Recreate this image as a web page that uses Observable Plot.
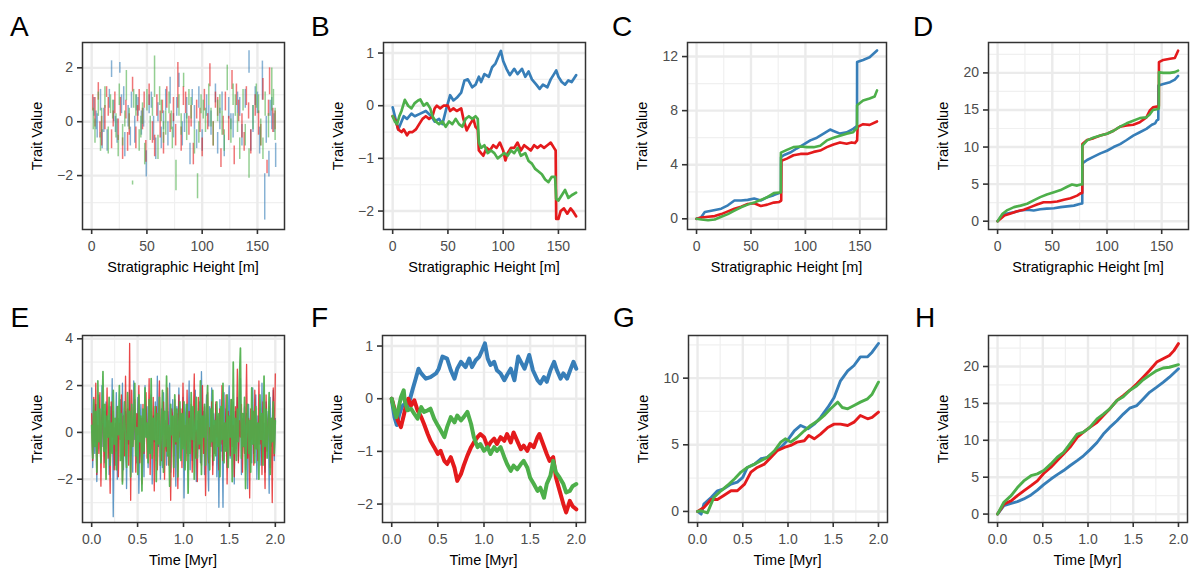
<!DOCTYPE html>
<html><head><meta charset="utf-8">
<script src="https://cdn.jsdelivr.net/npm/d3@7"></script>
<script src="https://cdn.jsdelivr.net/npm/@observablehq/plot@0.6"></script>
<style>
body{margin:0;background:#fff;}
#root{position:relative;width:1195px;height:572px;overflow:hidden;font-family:"Liberation Sans",Arial,sans-serif;background:#fff;}
.panel{position:absolute;}
.panel svg text{fill:#4d4d4d;}
.panel svg g[aria-label="x-axis"] line,.panel svg g[aria-label="y-axis"] line,
.panel svg g[aria-label="x-axis tick"] path,.panel svg g[aria-label="y-axis tick"] path{stroke-width:1.6px;stroke:#333;}
.lab{position:absolute;font-size:28px;line-height:28px;color:#000;}
.xt{position:absolute;font-size:14.5px;line-height:14.5px;white-space:nowrap;transform:translate(-50%,-50%);color:#000;}
.yt{position:absolute;font-size:14.5px;line-height:14.5px;white-space:nowrap;transform:translate(-50%,-50%) rotate(-90deg);color:#000;}
</style></head>
<body><div id="root"></div>
<script>
const RED="#E41A1C", BLUE="#377EB8", GREEN="#4DAF4A";

// ---- tick labels / gridlines ----
const stratTicks=[0,50,100,150], stratMinor=[25,75,125];
const timeTicks=[0,0.5,1,1.5,2], timeMinor=[0.25,0.75,1.25,1.75];
const A_yTicks=[-2,0,2], A_yMinor=[-3,-1,1];
const B_yTicks=[-2,-1,0,1], B_yMinor=[-1.5,-0.5,0.5];
const C_yTicks=[0,4,8,12], C_yMinor=[2,6,10];
const D_yTicks=[0,5,10,15,20], D_yMinor=[2.5,7.5,12.5,17.5,22.5];
const E_yTicks=[-2,0,2,4], E_yMinor=[-3,-1,1,3];
const G_yTicks=[0,5,10], G_yMinor=[2.5,7.5,12.5];

// ---- Panel A: segments [height, low, high] ----
const A_blue=[[2,0.2,0.9],[5,-0.6,0.3],[8,0.4,1.2],[11,-0.4,0.5],[14,-1.1,-0.3],[18,1.64,2.26],[20,0.0,0.8],[23,-0.8,0.1],[25.5,1.8,2.2],[27,0.3,1.0],[30,-1.3,-0.4],[33,-0.2,0.6],[36,0.5,1.1],[39,-0.8,0.2],[42,0.2,0.9],[45,-0.5,0.4],[49.4,-2.05,-1.08],[52,0.3,1.0],[56,-0.7,0.2],[60,0.0,0.7],[63,-1.0,-0.2],[67,0.4,1.2],[71,0.66,1.65],[74,-0.6,0.3],[79,1.27,1.8],[82,-0.9,0.0],[86,0.1,0.9],[89,-1.6,-0.8],[93,-0.3,0.6],[97,0.5,1.3],[100,-1.1,-0.3],[104,0.2,1.0],[108,-0.5,0.4],[112,0.7,1.4],[116,-0.3,0.5],[120,-1.3,-0.5],[124,0.1,0.9],[128,-0.6,0.3],[132,0.3,1.1],[136,-0.9,-0.1],[139,0.5,1.2],[142.4,1.8,2.63],[146,-0.4,0.6],[150,0.3,1.1],[152,-1.2,-0.2],[154.5,0.8,2.25],[156.6,-3.65,-1.93],[158,-0.8,0.2],[160.4,-2.05,-1.1],[163,-0.3,0.9],[166.5,-1.7,-0.8],
 [4,-0.3,0.4],[9.5,-1.0,-0.3],[16,0.5,1.2],[21.5,-0.4,0.2],[29,0.6,1.3],[35,-0.9,-0.2],[40.5,0.4,1.0],[47,-0.2,0.5],[54,0.5,1.1],[58,-1.4,-0.6],[65,-0.3,0.4],[69,-0.9,0.0],[77,0.2,0.9],[84,-0.4,0.3],[91,0.6,1.2],[95,-1.0,-0.3],[106,-0.2,0.6],[114,-1.2,-0.4],[118,0.4,1.1],[126,-0.3,0.3],[134,0.2,0.9],[144,-1.1,-0.3],[148,0.6,1.3],[161.5,0.2,0.8],[165,-0.4,0.3]];
const A_red=[[3,-0.2,0.9],[6,0.8,1.45],[9,-0.9,0.2],[12,-0.3,0.6],[15,0.2,0.9],[18,-1.0,-0.3],[21,0.3,1.1],[24,-0.7,0.1],[28,-1.4,-0.6],[31,0.1,0.8],[34,-0.5,0.3],[37,1.1,1.65],[40,-1.0,-0.2],[43,0.4,1.2],[46,-0.3,0.5],[49,-1.5,-0.7],[52,0.6,1.4],[55,-0.8,0.0],[59,0.2,1.0],[62,-0.6,0.4],[65,-1.2,-0.4],[68,0.5,1.3],[71,-0.4,0.3],[74,0.0,0.9],[78,0.5,2.2],[81,-1.1,-0.2],[85,0.3,1.1],[88,-0.5,0.2],[92,-1.6,-0.8],[95,0.1,0.8],[98,-0.4,0.5],[102,0.4,1.2],[107,1.3,2.15],[110,-0.9,0.0],[114,0.2,0.9],[117,-1.7,-1.0],[121,0.4,1.1],[124,-0.7,0.2],[127,1.2,1.9],[129,-1.6,-0.9],[133,0.0,0.8],[136,-0.6,0.3],[140,0.6,1.3],[144,-1.2,-0.3],[148,0.2,1.0],[151,-0.5,0.4],[155,0.8,1.6],[158.7,-1.93,-1.43],[161,1.0,2.0],[164,-0.4,0.5],[166,-0.3,0.4],
 [1,0.4,1.0],[7.5,-0.6,0.0],[13.5,0.9,1.3],[19.5,-0.2,0.4],[26,0.2,0.9],[32.5,-1.1,-0.4],[41.5,0.0,0.6],[47.5,0.5,1.1],[57,-1.3,-0.5],[64,0.3,0.8],[76,-0.9,-0.1],[83,0.6,1.3],[90,-0.2,0.6],[100,-1.3,-0.6],[105,-0.3,0.3],[112,0.5,1.1],[119,-0.5,0.2],[131,0.6,1.4],[138,-1.1,-0.4],[142,0.1,0.7],[153,-0.9,-0.1],[160,0.2,0.8]];
const A_green=[[3,-0.8,0.1],[6,0.2,1.1],[9,-0.4,0.5],[12,0.5,1.3],[15,-1.2,-0.2],[19,0.1,0.8],[22,-0.6,0.3],[25,0.6,1.4],[28,-0.9,-0.1],[31.4,0.78,1.9],[34,-0.3,0.5],[37,-2.35,-2.2],[40,0.2,1.0],[43,-1.1,-0.3],[46,-0.1,0.7],[50,0.4,1.2],[53,-0.7,0.2],[56.9,0.9,2.44],[60,-1.4,-0.5],[63,0.0,0.8],[67,-0.5,0.4],[70,0.3,1.1],[73,-1.0,-0.2],[76.3,-2.56,-1.43],[79,0.2,1.0],[83.2,1.27,1.8],[86,-0.7,0.3],[90,0.1,0.9],[93,-1.2,-0.3],[95.8,-2.86,-1.93],[99,0.3,1.0],[103,-0.4,0.5],[106,0.6,1.4],[110,-0.9,0.0],[114,0.0,0.8],[118,-0.5,0.4],[122.7,1.15,2.1],[126,-0.8,0.1],[130,0.2,1.0],[134,-1.4,-0.6],[137,0.4,1.2],[142.4,-2.1,-1.0],[146,-0.3,0.6],[149,0.5,1.4],[153,-0.9,0.1],[157,0.2,1.1],[160,-0.6,0.3],[163,0.4,1.99],[166,-0.7,0.5],
 [1.5,-0.3,0.5],[8,-1.1,-0.4],[17,0.3,1.0],[24,-1.3,-0.5],[30,-0.2,0.4],[38,0.5,1.2],[44.5,-0.6,0.2],[48,-1.6,-0.8],[55,0.2,0.9],[61.5,0.6,1.3],[65,-0.8,0.0],[72,-0.3,0.4],[81,-0.5,0.3],[88,0.6,1.2],[97,-0.8,0.0],[101,0.1,0.8],[108,-0.2,0.5],[116,0.3,1.0],[120,-1.1,-0.3],[128,0.6,1.4],[132,-0.4,0.3],[139,-0.9,-0.1],[151,0.3,1.0],[155,-1.4,-0.6],[164.5,0.6,1.2]];

// ---- Panel B: [height, value] ----
const B_blue=[[0,-0.03],[2,-0.2],[5,-0.45],[7,-0.35],[10,-0.2],[13,-0.25],[17,-0.15],[20,-0.2],[25,-0.15],[30,-0.1],[35,-0.2],[38,-0.3],[42,-0.25],[45,-0.35],[48,-0.1],[52,0.2],[55,0.1],[58,0.15],[62,0.25],[65,0.48],[68,0.5],[72,0.35],[75,0.4],[78,0.55],[80,0.45],[83,0.6],[87,0.55],[90,0.73],[93,0.8],[96,0.95],[98,1.04],[100,0.85],[103,0.7],[106,0.58],[110,0.7],[113,0.6],[117,0.7],[120,0.55],[123,0.65],[126,0.5],[130,0.4],[133,0.32],[136,0.4],[140,0.35],[143,0.5],[146,0.6],[148,0.67],[150,0.55],[153,0.45],[156,0.4],[159,0.48],[162,0.45],[166,0.58]];
const B_red=[[0,-0.2],[3,-0.3],[5,-0.45],[8,-0.5],[10,-0.45],[13,-0.56],[15,-0.5],[18,-0.5],[21,-0.45],[24,-0.35],[27,-0.25],[30,-0.2],[33,-0.25],[36,-0.2],[38,-0.05],[40,0],[43,-0.05],[46,0],[50,0],[52,-0.1],[55,-0.05],[58,-0.1],[62,-0.05],[64,-0.25],[67,-0.47],[70,-0.35],[73,-0.25],[75,-0.4],[77,-0.45],[78,-0.85],[80,-0.9],[82,-0.95],[85,-0.8],[88,-0.85],[91,-0.75],[94,-0.8],[97,-0.7],[100,-0.85],[102,-1.04],[104,-0.9],[107,-0.8],[110,-0.8],[113,-0.7],[116,-0.85],[119,-0.75],[122,-0.8],[125,-0.85],[128,-0.75],[131,-0.8],[134,-0.75],[137,-0.8],[140,-0.75],[143,-0.7],[146,-0.8],[147.5,-0.85],[148,-2.15],[150,-2.15],[152,-2.0],[155,-1.95],[158,-2.05],[161,-1.95],[163,-2.0],[166,-2.1]];
const B_green=[[0,-0.2],[2,-0.3],[4,-0.35],[6,-0.2],[8,-0.1],[11,0.11],[14,0],[17,-0.05],[20,0.05],[23,0.1],[25,0.12],[28,0],[31,0.05],[34,-0.05],[36,-0.2],[39,-0.3],[42,-0.35],[45,-0.3],[48,-0.4],[51,-0.3],[54,-0.35],[57,-0.25],[60,-0.35],[63,-0.4],[66,-0.25],[69,-0.2],[72,-0.25],[75,-0.2],[77,-0.25],[78,-0.7],[80,-0.8],[83,-0.75],[86,-0.9],[89,-0.85],[92,-0.9],[95,-1.0],[98,-0.95],[101,-0.9],[104,-0.95],[107,-0.85],[110,-0.9],[113,-0.8],[116,-0.95],[120,-0.9],[123,-1.05],[126,-1.1],[129,-1.2],[132,-1.25],[135,-1.3],[138,-1.4],[141,-1.45],[144,-1.35],[147,-1.35],[148,-1.77],[150,-1.8],[153,-1.7],[156,-1.6],[159,-1.75],[162,-1.7],[166,-1.65]];

// ---- Panel C ----
const C_blue=[[0,0],[4,0.1],[7.6,0.5],[13.6,0.6],[22.7,0.75],[28.8,1.0],[34.8,1.35],[40.9,1.35],[47,1.4],[53,1.5],[59,1.35],[65,1.6],[71,1.75],[76,1.9],[77.5,1.95],[77.6,4.55],[80,4.7],[86,4.9],[92,5.2],[98.5,5.5],[104.5,5.8],[110.6,6.0],[116.7,6.3],[122.7,6.6],[125.8,6.5],[131.8,6.3],[137.9,6.4],[143.9,6.65],[146.4,6.8],[147.4,6.9],[147.5,11.6],[153,11.75],[159,11.95],[165.8,12.45]];
const C_red=[[0,0],[4.5,0.1],[10.6,0.15],[16.7,0.2],[22.7,0.35],[28.8,0.55],[34.8,0.75],[40.9,0.9],[47,1.1],[53,1.15],[59,0.95],[65,1.05],[71,1.2],[76,1.25],[77.8,1.35],[78,4.3],[83,4.45],[89,4.7],[95.5,4.8],[101.5,4.8],[107.6,4.95],[113.6,5.05],[119.7,5.3],[125.8,5.5],[131.8,5.65],[137.9,5.55],[142.4,5.65],[145.5,5.6],[147.5,5.8],[148,6.8],[153,7.0],[159,6.95],[165.8,7.2]];
const C_green=[[0,0],[4.5,-0.05],[10.6,-0.1],[16.7,-0.05],[22.7,0.15],[28.8,0.35],[34.8,0.6],[40.9,0.85],[47,1.05],[53,1.2],[59,1.4],[65,1.6],[71,1.9],[76,1.95],[77.4,1.95],[77.5,4.9],[83,5.1],[89,5.3],[95.5,5.35],[101.5,5.3],[107.6,5.3],[113.6,5.4],[119.7,5.8],[125.8,6.0],[131.8,6.15],[137.9,6.3],[143.9,6.4],[146.4,6.65],[147.4,6.7],[147.5,8.4],[153,8.75],[159,8.9],[163.6,9.05],[165.8,9.5]];

// ---- Panel D ----
const D_blue=[[0,0],[3,0.55],[7.6,1.0],[15,1.2],[21,1.45],[27,1.55],[33,1.45],[39,1.6],[45,1.7],[51.5,1.75],[57.6,1.9],[63.6,2.0],[69.7,2.1],[75.8,2.35],[77.4,2.4],[77.5,7.8],[81.8,8.25],[87.9,8.7],[94,9.15],[100,9.5],[106,10.0],[112,10.4],[118,10.95],[124,11.55],[130,12.0],[136,12.45],[141,13.0],[144,13.2],[145.5,13.6],[146.9,13.7],[147,18.3],[151.5,18.5],[157.6,18.75],[162,19.1],[165,19.6]];
const D_red=[[0,0],[6,0.75],[12,1.05],[18,1.35],[24,1.55],[30,1.9],[36,2.25],[42,2.55],[48.5,2.55],[54.5,2.65],[60.6,2.9],[66.7,3.1],[72.7,3.45],[75.8,3.75],[77.4,3.8],[77.5,10.4],[81.8,10.95],[87.9,11.2],[94,11.55],[100,11.8],[106,12.2],[112,12.75],[118,12.9],[124,13.0],[130,13.35],[136,14.0],[139,14.9],[142,15.35],[145.5,15.45],[147.4,15.5],[147.5,21.45],[151.5,21.75],[157.6,21.9],[162,22.0],[165,23.0]];
const D_green=[[0,0],[4.5,1.0],[9,1.5],[15,1.9],[21,2.1],[27,2.35],[33,2.8],[39,3.25],[45,3.6],[51.5,3.9],[57.6,4.2],[63.6,4.65],[68,4.95],[72.7,4.8],[75.8,4.95],[77.4,4.95],[77.5,10.2],[81.8,10.9],[87.9,11.3],[94,11.55],[100,11.8],[106,12.2],[112,12.75],[118,13.2],[124,13.55],[130,13.9],[136,14.0],[139,14.4],[142,15.0],[145.5,15.1],[147.4,15.2],[147.5,20.1],[151.5,20.0],[157.6,20.0],[162,20.1],[165,20.3]];

// ---- Panel E: values on an even time grid from 0 to 2 Myr ----
const E_red=[0.8,-1.2,1.5,-0.4,2.1,-1.8,0.3,-0.9,1.7,-2.3,0.6,1.2,-1.5,0.2,-0.7,1.9,-1.1,0.5,-2.6,1.3,
-0.2,0.9,-1.6,0.4,-0.8,1.1,-1.9,0.4,-0.3,1.6,-2.1,0.7,-1.0,2.4,-0.5,1.0,-1.4,3.8,-2.9,1.8,
-0.6,0.3,1.4,-1.7,0.8,-0.1,2.0,-1.3,0.6,-2.2,1.2,-0.9,0.2,1.7,-1.1,-0.4,2.3,-1.8,0.9,-0.7,
1.5,-2.5,0.4,1.1,-1.6,0.0,2.2,-0.3,-1.2,0.7,1.3,-2.0,0.5,-0.8,1.9,-1.4,0.2,-2.9,1.0,0.6,
-1.9,1.4,-0.5,0.8,-2.4,1.6,-0.2,1.0,-1.5,2.1,-0.6,0.3,-1.2,1.8,-1.0,0.9,-0.4,1.2,-1.7,0.5,
2.5,-1.1,0.1,-2.1,1.5,-0.7,0.6,-1.4,2.0,-0.9,1.1,-2.7,0.4,1.7,-1.3,0.2,-0.6,1.3,-1.8,0.3,
-0.9,1.3,-0.2,0.7,-1.6,1.0,-0.5,2.0,-1.2,0.4,-0.8,1.6,-2.2,0.9,0.1,-1.0,1.4,-0.6,0.3,-1.9,
1.1,-0.4,2.7,-1.3,0.5,-0.2,1.2,-1.7,0.8,-0.9,0.2,2.9,-1.1,0.6,-2.8,1.0,-0.3,0.9,-1.4,1.8,
-0.7,0.4,-1.2,2.2,-0.5,0.7,-1.8,1.3,-0.1,-2.4,1.6,-0.8,0.3,1.1,-1.5,0.6,-3.0,1.9,-1.0,2.5];
const E_blue=[1.9,-1.5,0.4,-0.9,1.2,-2.1,0.7,1.6,-0.3,-1.2,2.0,-0.6,0.9,-1.3,1.3,-0.2,0.5,-1.8,1.1,-0.8,
2.3,-3.6,0.2,-1.4,1.7,-2.0,0.6,-0.1,1.4,-1.1,2.1,-1.6,0.3,0.9,-2.4,1.0,-0.5,1.8,-1.0,0.4,
-1.7,2.2,-0.3,0.8,-1.3,1.5,-2.6,0.1,1.2,-0.7,0.6,-1.9,2.0,-0.2,1.1,-1.5,0.3,-0.9,1.6,-2.2,
0.7,-0.4,1.3,-1.2,2.4,-0.6,0.5,-2.0,1.0,-1.5,1.7,-0.1,0.4,-1.4,0.9,-0.8,2.1,-1.7,0.2,1.4,
-1.0,0.6,-2.3,1.1,-0.3,1.9,-1.1,0.8,-0.5,1.5,-2.8,0.3,1.2,-0.9,0.0,2.2,-1.6,0.7,-1.2,1.0,
-0.4,1.8,-2.1,0.5,-0.7,1.3,-1.3,2.6,-0.2,0.9,-1.8,0.4,1.6,-1.0,-2.5,1.1,-0.6,1.9,-1.4,0.8,
-0.5,1.2,-1.9,0.6,-3.2,1.4,-0.8,0.3,-3.2,1.7,-0.6,1.0,-1.5,0.2,2.0,-1.1,0.7,-0.3,1.3,-2.2,
0.9,-0.7,1.5,-1.2,0.4,2.3,-1.8,0.6,-0.2,1.1,-1.6,0.8,-2.4,1.2,-0.4,0.5,-1.3,1.9,-0.9,0.3,
1.6,-2.0,0.7,-0.5,1.0,-1.4,2.1,-0.8,0.4,-1.7,1.3,-0.3,0.9,-2.6,1.5,-0.6,0.2,1.8,-1.2,0.6];
const E_green=[0.3,-1.1,1.4,-0.6,0.9,-1.7,2.2,-0.4,1.0,-1.3,0.5,2.6,-0.8,1.2,-2.0,0.7,-0.2,1.5,-1.4,0.4,
-0.9,1.8,-0.5,0.6,-1.6,1.1,-0.1,2.0,-1.2,0.8,-2.2,0.3,1.3,-0.7,-1.5,1.7,-0.3,0.9,-1.9,1.2,
-0.6,0.5,2.1,-1.0,0.2,-1.8,1.6,-0.4,0.7,-2.5,1.0,-0.8,1.9,-0.2,0.4,-1.3,1.4,-0.9,2.3,-1.1,
0.6,-0.3,1.1,-2.1,0.8,-0.5,1.5,-1.4,0.1,1.8,-1.7,0.9,-0.6,2.4,-1.0,0.3,-2.3,1.2,-0.1,0.7,
-1.5,1.6,-0.4,1.0,-1.9,0.5,1.3,-1.2,0.8,-0.7,1.3,-1.6,0.2,1.2,-2.6,0.6,-0.9,1.7,-0.3,1.1,
-2.0,0.4,1.5,-1.1,0.9,-0.5,2.2,-1.8,0.7,-0.2,1.2,-1.4,0.6,2.0,-0.8,-1.6,1.0,-0.4,1.8,-1.2,
0.5,-1.0,1.3,-0.6,0.8,-1.9,1.1,-0.3,2.1,-1.3,0.4,-0.8,1.6,-1.5,0.7,-0.2,1.4,-2.1,3.0,-0.9,
0.6,-1.2,1.0,-0.4,2.3,3.6,-1.1,0.8,-0.6,1.5,-2.4,0.3,1.2,-0.9,0.5,-1.7,1.9,-0.5,0.9,-1.3,
1.1,-0.7,0.4,-2.0,1.6,-0.3,0.8,-1.4,2.4,-0.6,1.0,-1.1,0.2,1.7,-1.8,0.6,-0.4,1.3,-0.9,0.5];

// ---- Panel F: [time, value] ----
const F_blue=[[0,0],[0.03,-0.35],[0.055,-0.5],[0.08,-0.3],[0.11,-0.15],[0.14,-0.1],[0.165,-0.2],[0.19,-0.06],[0.23,0.2],[0.26,0.38],[0.29,0.57],[0.32,0.48],[0.37,0.38],[0.42,0.41],[0.48,0.48],[0.51,0.57],[0.55,0.8],[0.6,0.76],[0.64,0.54],[0.68,0.38],[0.71,0.57],[0.75,0.7],[0.8,0.6],[0.84,0.76],[0.87,0.6],[0.91,0.73],[0.95,0.8],[0.98,0.92],[1.01,1.05],[1.04,0.76],[1.07,0.64],[1.11,0.7],[1.14,0.54],[1.18,0.48],[1.22,0.35],[1.25,0.45],[1.29,0.57],[1.33,0.35],[1.37,0.8],[1.4,0.7],[1.44,0.57],[1.49,0.83],[1.53,0.54],[1.58,0.35],[1.61,0.29],[1.65,0.41],[1.68,0.32],[1.72,0.54],[1.76,0.7],[1.79,0.54],[1.83,0.38],[1.86,0.48],[1.9,0.38],[1.94,0.57],[1.97,0.7],[2.0,0.57]];
const F_red=[[0,0],[0.03,-0.19],[0.065,-0.41],[0.1,-0.54],[0.13,-0.32],[0.155,-0.13],[0.18,0],[0.21,-0.13],[0.245,-0.03],[0.28,-0.22],[0.32,-0.35],[0.35,-0.48],[0.39,-0.67],[0.42,-0.8],[0.46,-0.92],[0.5,-1.05],[0.53,-0.99],[0.57,-1.18],[0.6,-1.24],[0.64,-1.11],[0.68,-1.31],[0.71,-1.56],[0.75,-1.43],[0.78,-1.27],[0.82,-1.08],[0.86,-0.92],[0.89,-0.83],[0.93,-0.73],[0.96,-0.67],[1.0,-0.73],[1.04,-0.92],[1.07,-0.83],[1.11,-0.76],[1.14,-0.86],[1.18,-0.73],[1.22,-0.8],[1.25,-0.67],[1.29,-0.83],[1.32,-0.64],[1.36,-0.8],[1.4,-0.96],[1.43,-0.89],[1.47,-0.99],[1.5,-0.86],[1.54,-0.92],[1.58,-0.73],[1.6,-0.67],[1.64,-0.86],[1.68,-1.05],[1.71,-1.18],[1.75,-1.11],[1.78,-1.5],[1.82,-1.75],[1.86,-2.0],[1.89,-2.16],[1.93,-1.94],[1.96,-2.04],[2.0,-2.1]];
const F_green=[[0,0],[0.02,-0.16],[0.05,-0.35],[0.07,-0.22],[0.1,0.03],[0.13,0.16],[0.14,-0.03],[0.17,-0.22],[0.21,-0.19],[0.245,-0.29],[0.28,-0.38],[0.32,-0.16],[0.35,-0.25],[0.39,-0.22],[0.42,-0.19],[0.46,-0.38],[0.5,-0.51],[0.53,-0.6],[0.57,-0.73],[0.6,-0.54],[0.64,-0.35],[0.68,-0.45],[0.71,-0.32],[0.75,-0.41],[0.78,-0.35],[0.82,-0.25],[0.86,-0.48],[0.89,-0.73],[0.93,-0.92],[0.96,-0.86],[1.0,-0.99],[1.04,-0.92],[1.07,-1.05],[1.11,-0.92],[1.14,-0.99],[1.18,-0.92],[1.22,-1.11],[1.25,-1.24],[1.29,-1.37],[1.32,-1.27],[1.36,-1.34],[1.4,-1.24],[1.43,-1.18],[1.47,-1.31],[1.5,-1.5],[1.54,-1.62],[1.58,-1.75],[1.61,-1.69],[1.65,-1.88],[1.68,-1.62],[1.72,-1.46],[1.75,-1.18],[1.78,-1.4],[1.82,-1.5],[1.86,-1.62],[1.89,-1.78],[1.93,-1.75],[1.96,-1.66],[2.0,-1.62]];

// ---- Panel G ----
const G_blue=[[0,0],[0.04,-0.2],[0.07,0.55],[0.15,1.05],[0.22,1.55],[0.29,1.7],[0.37,2.05],[0.44,2.2],[0.5,2.55],[0.55,3.3],[0.63,3.55],[0.7,3.95],[0.77,4.05],[0.85,4.45],[0.92,4.8],[0.99,5.3],[1.07,6.05],[1.14,6.45],[1.22,6.2],[1.29,6.55],[1.36,7.05],[1.44,7.8],[1.51,8.55],[1.58,9.8],[1.66,10.55],[1.73,10.95],[1.8,11.6],[1.88,11.6],[1.93,11.95],[2.0,12.6]];
const G_red=[[0,0],[0.07,0.3],[0.15,0.9],[0.22,0.9],[0.29,1.2],[0.37,1.55],[0.44,1.55],[0.52,2.05],[0.59,2.95],[0.66,3.3],[0.74,3.55],[0.81,4.05],[0.88,4.55],[0.96,4.8],[1.03,4.95],[1.1,5.2],[1.18,5.3],[1.23,5.7],[1.29,5.45],[1.36,5.8],[1.44,6.3],[1.51,6.55],[1.58,6.55],[1.66,6.45],[1.73,6.7],[1.8,7.2],[1.88,6.95],[1.93,7.05],[2.0,7.45]];
const G_green=[[0,0],[0.04,0.05],[0.11,-0.1],[0.18,1.05],[0.26,1.55],[0.33,1.95],[0.41,2.45],[0.48,2.95],[0.55,3.3],[0.63,3.55],[0.7,3.8],[0.77,4.05],[0.85,4.55],[0.92,5.2],[0.97,5.45],[1.03,5.2],[1.1,5.55],[1.18,6.05],[1.25,6.45],[1.33,6.8],[1.4,7.2],[1.47,7.7],[1.55,8.2],[1.6,7.8],[1.66,7.7],[1.73,7.95],[1.8,8.2],[1.88,8.45],[1.93,8.8],[2.0,9.7]];

// ---- Panel H ----
const H_blue=[[0,0],[0.07,1.15],[0.15,1.45],[0.22,1.7],[0.29,2.05],[0.37,2.6],[0.44,3.25],[0.51,4.0],[0.59,4.75],[0.66,5.35],[0.73,5.9],[0.8,6.55],[0.88,7.25],[0.95,7.9],[1.02,8.7],[1.1,9.7],[1.17,10.85],[1.24,11.75],[1.32,12.65],[1.39,13.55],[1.46,14.35],[1.54,14.7],[1.61,15.6],[1.68,16.5],[1.76,17.2],[1.83,17.85],[1.9,18.55],[2.0,19.7]];
const H_red=[[0,0],[0.07,1.35],[0.15,1.8],[0.22,2.5],[0.29,3.15],[0.37,3.85],[0.44,4.5],[0.51,5.5],[0.59,6.35],[0.66,7.25],[0.73,8.15],[0.8,9.05],[0.88,10.4],[0.95,11.1],[1.02,11.75],[1.1,12.45],[1.17,13.35],[1.24,14.25],[1.32,15.4],[1.39,16.05],[1.46,16.75],[1.54,17.65],[1.61,18.55],[1.68,19.45],[1.76,20.6],[1.83,21.05],[1.9,21.5],[1.95,22.15],[2.0,23.1]];
const H_green=[[0,0],[0.07,1.6],[0.15,2.5],[0.22,3.6],[0.29,4.5],[0.37,5.2],[0.44,5.45],[0.51,5.9],[0.59,6.8],[0.66,7.7],[0.73,8.35],[0.8,9.5],[0.88,10.85],[0.95,11.1],[1.02,11.75],[1.1,12.9],[1.17,13.55],[1.24,14.25],[1.32,15.4],[1.39,15.9],[1.46,16.75],[1.54,17.4],[1.61,18.2],[1.68,18.8],[1.76,19.45],[1.83,19.8],[1.9,19.9],[2.0,20.25]];

// ---------------- rendering ----------------
const root=document.getElementById("root");
const STRAT_X=[-8.3,174.5], TIME_X=[-0.1,2.1];
const f1=d3.format(".1f"), fInt=d3.format("d");

function grid(xMajor,xMinor,yMajor,yMinor){
  return [
    Plot.ruleX(xMinor,{x:d=>d,stroke:"#F0F0F0",strokeWidth:1.2}),
    Plot.ruleY(yMinor,{y:d=>d,stroke:"#F0F0F0",strokeWidth:1.2}),
    Plot.ruleX(xMajor,{x:d=>d,stroke:"#EBEBEB",strokeWidth:2.4}),
    Plot.ruleY(yMajor,{y:d=>d,stroke:"#EBEBEB",strokeWidth:2.4})
  ];
}
const lineXY=(data,color,w)=>Plot.line(data,{x:d=>d[0],y:d=>d[1],stroke:color,strokeWidth:w,strokeLinejoin:"round"});
const segs=(data,color)=>Plot.ruleX(data,{x:d=>d[0],y1:d=>d[1],y2:d=>d[2],stroke:color,strokeWidth:1.5,strokeOpacity:0.6});
const eLine=(vals,color,op,w)=>Plot.line(vals.map((v,i)=>[i*2/(vals.length-1),v]),{x:d=>d[0],y:d=>d[1],stroke:color,strokeWidth:w,strokeOpacity:op});

const panels=[
  {lab:"A",left:0,top:0,w:298,h:290,ml:82,mr:14,mt:42,mb:61,xd:STRAT_X,yd:[-4.0,2.94],xt:stratTicks,xm:stratMinor,yt:A_yTicks,ym:A_yMinor,time:false,
   marks:[segs(A_blue,BLUE),segs(A_red,RED),segs(A_green,GREEN)]},
  {lab:"B",left:300,top:0,w:298,h:290,ml:83,mr:13,mt:42,mb:61,xd:STRAT_X,yd:[-2.35,1.2],xt:stratTicks,xm:stratMinor,yt:B_yTicks,ym:B_yMinor,time:false,
   marks:[lineXY(B_blue,BLUE,2.7),lineXY(B_red,RED,2.7),lineXY(B_green,GREEN,2.7)]},
  {lab:"C",left:600,top:0,w:298,h:290,ml:87,mr:12,mt:42,mb:61,xd:STRAT_X,yd:[-0.79,13.04],xt:stratTicks,xm:stratMinor,yt:C_yTicks,ym:C_yMinor,time:false,
   marks:[lineXY(C_blue,BLUE,2.6),lineXY(C_red,RED,2.6),lineXY(C_green,GREEN,2.6)]},
  {lab:"D",left:900,top:0,w:295,h:290,ml:88,mr:7,mt:42,mb:61,xd:STRAT_X,yd:[-1.12,24.1],xt:stratTicks,xm:stratMinor,yt:D_yTicks,ym:D_yMinor,time:false,
   marks:[lineXY(D_blue,BLUE,2.6),lineXY(D_red,RED,2.6),lineXY(D_green,GREEN,2.6)]},
  {lab:"E",left:0,top:290,w:298,h:282,ml:82,mr:14,mt:45,mb:50,xd:TIME_X,yd:[-3.85,4.14],xt:timeTicks,xm:timeMinor,yt:E_yTicks,ym:E_yMinor,time:true,
   marks:[eLine(E_blue,BLUE,0.8,1.3),eLine(E_red,RED,0.8,1.3),eLine(E_green,GREEN,0.92,1.7)]},
  {lab:"F",left:300,top:290,w:298,h:282,ml:82,mr:13,mt:45,mb:50,xd:TIME_X,yd:[-2.35,1.2],xt:timeTicks,xm:timeMinor,yt:B_yTicks,ym:B_yMinor,time:true,
   marks:[lineXY(F_blue,BLUE,4),lineXY(F_red,RED,4),lineXY(F_green,GREEN,4)]},
  {lab:"G",left:600,top:290,w:298,h:282,ml:88,mr:11,mt:45,mb:50,xd:TIME_X,yd:[-0.83,13.2],xt:timeTicks,xm:timeMinor,yt:G_yTicks,ym:G_yMinor,time:true,
   marks:[lineXY(G_blue,BLUE,2.9),lineXY(G_red,RED,2.9),lineXY(G_green,GREEN,2.9)]},
  {lab:"H",left:900,top:290,w:295,h:282,ml:88,mr:8,mt:45,mb:50,xd:TIME_X,yd:[-1.14,24.2],xt:timeTicks,xm:timeMinor,yt:D_yTicks,ym:D_yMinor,time:true,
   marks:[lineXY(H_blue,BLUE,2.9),lineXY(H_red,RED,2.9),lineXY(H_green,GREEN,2.9)]}
];
const labOffsetX={A:10,B:311,C:612,D:913,E:10.5,F:311,G:613,H:915};

for(const p of panels){
  const svg=Plot.plot({
    width:p.w,height:p.h,marginLeft:p.ml,marginRight:p.mr,marginTop:p.mt,marginBottom:p.mb,
    x:{domain:p.xd,ticks:p.xt,tickFormat:p.time?f1:fInt,tickSize:5,tickPadding:7,label:null},
    y:{domain:p.yd,ticks:p.yt,tickFormat:fInt,tickSize:5,tickPadding:4.5,label:null},
    style:{fontFamily:'"Liberation Sans", Arial, sans-serif',fontSize:"14px",color:"#333",background:"transparent",overflow:"visible"},
    marks:[...grid(p.xt,p.xm,p.yt,p.ym),...p.marks,Plot.frame({stroke:"#333",strokeWidth:1.5})]
  });
  const wrap=document.createElement("div");
  wrap.className="panel";
  wrap.style.left=p.left+"px"; wrap.style.top=p.top+"px";
  wrap.appendChild(svg);
  root.appendChild(wrap);

  const fl=p.left+p.ml, fr=p.left+p.w-p.mr, ft=p.top+p.mt, fb=p.top+p.h-p.mb;
  const lab=document.createElement("div");
  lab.className="lab"; lab.textContent=p.lab;
  lab.style.left=labOffsetX[p.lab]+"px"; lab.style.top=(p.top===0?13.3:304.3)+"px";
  root.appendChild(lab);

  const xt=document.createElement("div");
  xt.className="xt"; xt.textContent=p.time?"Time [Myr]":"Stratigraphic Height [m]";
  xt.style.left=((fl+fr)/2)+"px"; xt.style.top=(p.top===0?267.2:560.2)+"px";
  root.appendChild(xt);

  const yt=document.createElement("div");
  yt.className="yt"; yt.textContent="Trait Value";
  yt.style.left=(fl-45)+"px"; yt.style.top=((ft+fb)/2)+"px";
  root.appendChild(yt);
}
</script>
</body></html>
